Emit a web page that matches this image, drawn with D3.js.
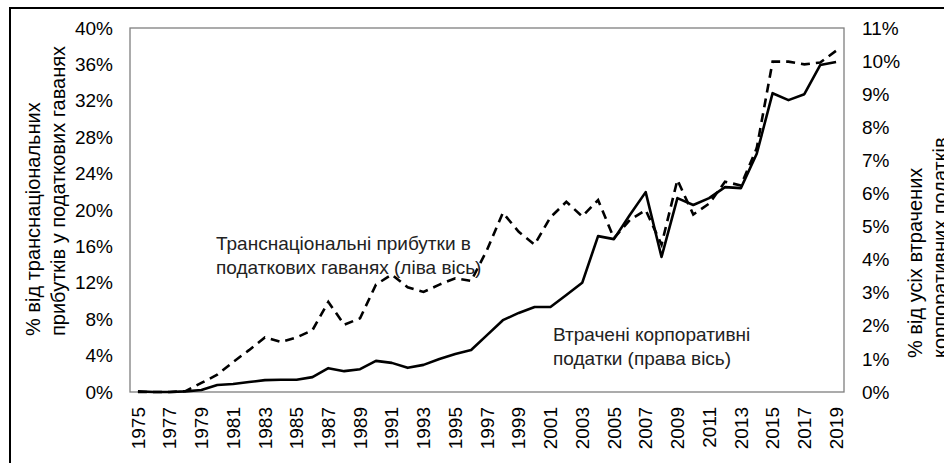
<!DOCTYPE html>
<html>
<head>
<meta charset="utf-8">
<script src="https://cdn.jsdelivr.net/npm/d3@7"></script>
<style>
  body { margin: 0; background: #fff; }
  svg { display: block; }
</style>
</head>
<body>
<div id="chart"></div>
<script>
// --- data ---
const years = d3.range(1975, 2020);
// transnational profits in tax havens, % (left axis, dashed)
const profitsShare = [
    0, 0, 0, 0.1, 1.0, 1.9, 3.3, 4.6, 6.0, 5.5,
    6.0, 6.8, 9.9, 7.4, 8.1, 11.8, 12.9, 11.5, 11.0, 11.8,
    12.5, 12.2, 15.6, 19.7, 17.6, 16.2, 19.2, 20.9, 19.3, 21.1,
    16.9, 18.9, 20.0, 16.2, 23.3, 19.5, 20.7, 23.1, 22.7, 26.8,
    36.3, 36.3, 36.0, 36.2, 37.5
];
// lost corporate taxes, % (right axis, solid)
const lostTaxes = [
    0.02, 0, 0, 0.02, 0.06, 0.21, 0.24, 0.30, 0.36, 0.37,
    0.37, 0.45, 0.72, 0.63, 0.69, 0.94, 0.88, 0.73, 0.82, 1.0,
    1.15, 1.27, 1.72, 2.17, 2.39, 2.57, 2.57, 2.93, 3.3, 4.71,
    4.62, 5.35, 6.04, 4.08, 5.86, 5.65, 5.86, 6.19, 6.16, 7.2,
    9.03, 8.82, 9.0, 9.88, 9.97
];
const leftTicks = d3.range(0, 41, 4);
const rightTicks = d3.range(0, 12, 1);
const xTickYears = years.filter(y => (y - 1975) % 2 === 0);

// no serif face resolves in the renderer, so stay on one sans family
const FONT = 'Liberation Sans, Arial, sans-serif';
const W = 944, H = 463;
const plot = { left: 130, right: 844, top: 28, bottom: 392 };

const svg = d3.select('#chart').append('svg')
    .attr('width', W)
    .attr('height', H)
    .attr('font-family', FONT);

// outer frame (runs off the right and bottom edges)
svg.append('rect')
    .attr('x', 10).attr('y', 8)
    .attr('width', 960).attr('height', 480)
    .attr('fill', 'none')
    .attr('stroke', '#000')
    .attr('stroke-width', 2);

const x = d3.scaleBand()
    .domain(years)
    .range([plot.left, plot.right])
    .padding(0);
const yLeft = d3.scaleLinear().domain([0, 40]).range([plot.bottom, plot.top]);
const yRight = d3.scaleLinear().domain([0, 11]).range([plot.bottom, plot.top]);
const cx = d => x(d) + x.bandwidth() / 2;

// plot area border
svg.append('rect')
    .attr('x', plot.left).attr('y', plot.top)
    .attr('width', plot.right - plot.left)
    .attr('height', plot.bottom - plot.top)
    .attr('fill', 'none')
    .attr('stroke', '#7f7f7f')
    .attr('stroke-width', 1.3);

// left axis
const leftAxis = svg.append('g')
    .attr('transform', `translate(${plot.left - 17},0)`)
    .call(d3.axisLeft(yLeft).tickValues(leftTicks).tickSize(0).tickFormat(d => d + '%'))
    .attr('font-family', FONT)
    .attr('font-size', 19);
leftAxis.select('.domain').remove();
leftAxis.selectAll('text').attr('x', 0).attr('fill', '#000');

// right axis
const rightAxis = svg.append('g')
    .attr('transform', `translate(${plot.right + 18},0)`)
    .call(d3.axisRight(yRight).tickValues(rightTicks).tickSize(0).tickFormat(d => d + '%'))
    .attr('font-family', FONT)
    .attr('font-size', 19);
rightAxis.select('.domain').remove();
rightAxis.selectAll('text').attr('x', 0).attr('fill', '#000');

// x axis, rotated year labels
const xAxis = svg.append('g')
    .attr('transform', `translate(0,${plot.bottom})`)
    .call(d3.axisBottom(x).tickValues(xTickYears).tickSize(0))
    .attr('font-family', FONT)
    .attr('font-size', 19);
xAxis.select('.domain').remove();
xAxis.selectAll('text')
    .attr('transform', 'rotate(-90)')
    .attr('x', -15)
    .attr('y', 0)
    .attr('dy', '0.35em')
    .attr('text-anchor', 'end')
    .attr('fill', '#000');

// lines
const lineLeft = d3.line()
    .x((d, i) => cx(years[i]))
    .y(d => yLeft(d));
const lineRight = d3.line()
    .x((d, i) => cx(years[i]))
    .y(d => yRight(d));

svg.append('path')
    .datum(lostTaxes)
    .attr('d', lineRight)
    .attr('fill', 'none')
    .attr('stroke', '#000')
    .attr('stroke-width', 2.6)
    .attr('stroke-linejoin', 'round');

svg.append('path')
    .datum(profitsShare)
    .attr('d', lineLeft)
    .attr('fill', 'none')
    .attr('stroke', '#000')
    .attr('stroke-width', 2.6)
    .attr('stroke-dasharray', '9,6');

// axis titles
const leftTitle = svg.append('text')
    .attr('transform', 'translate(40,336) rotate(-90)')
    .attr('font-size', 20);
leftTitle.append('tspan').attr('x', 0).attr('dy', 0).text('% від транснаціональних');
leftTitle.append('tspan').attr('x', 0).attr('dy', 25).text('прибутків у податкових гаванях');

const rightTitle = svg.append('text')
    .attr('transform', 'translate(922,358) rotate(-90)')
    .attr('font-size', 20);
rightTitle.append('tspan').attr('x', 0).attr('dy', 0).text('% від усіх втрачених');
rightTitle.append('tspan').attr('x', 0).attr('dy', 25).text('корпоративних податків');

// annotations
const notes = [
    { lines: ['Транснаціональні прибутки в', 'податкових гаванях (ліва вісь)'], x: 216, y: 250 },
    { lines: ['Втрачені корпоративні', 'податки (права вісь)'], x: 553, y: 341 }
];
notes.forEach(n => {
    const t = svg.append('text')
        .attr('x', n.x).attr('y', n.y)
        .attr('font-size', 19)
        .attr('fill', '#222');
    n.lines.forEach((l, i) => {
        t.append('tspan').attr('x', n.x).attr('dy', i === 0 ? 0 : 24).text(l);
    });
});
</script>
</body>
</html>
